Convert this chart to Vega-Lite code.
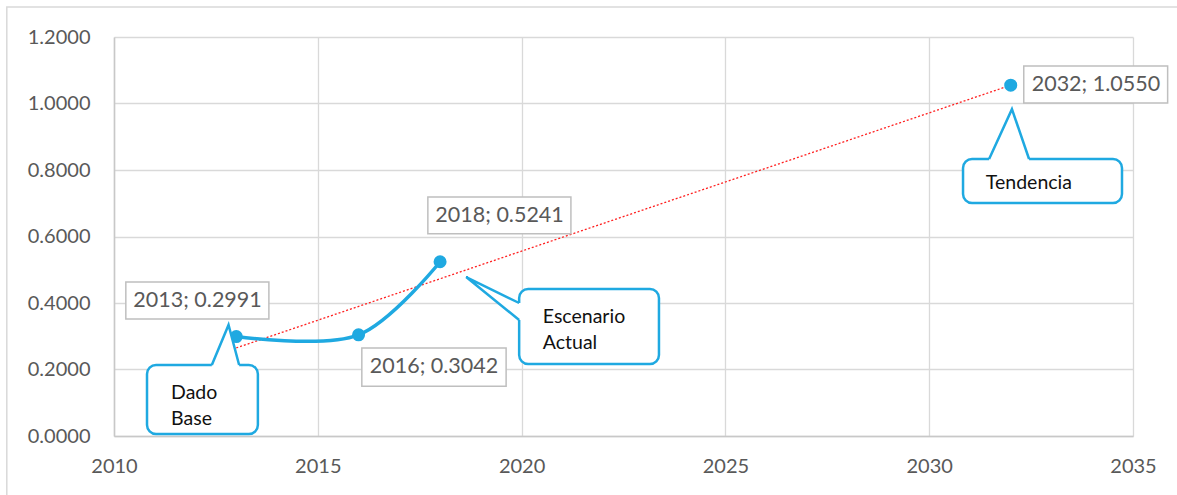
{
  "$schema": "https://vega.github.io/schema/vega-lite/v6.json",
  "width": 1019,
  "height": 399,
  "autosize": "none",
  "padding": {"left": 114, "top": 37, "right": 44, "bottom": 59},
  "background": "white",
  "config": {
    "view": {"stroke": null},
    "font": "Lato",
    "axis": {
      "labelFont": "Lato",
      "labelFontSize": 20,
      "labelColor": "#595959",
      "labelFlush": false,
      "labelOverlap": false,
      "gridColor": "#d9d9d9",
      "gridWidth": 1.3,
      "domainColor": "#c8c8c8",
      "domainWidth": 1.5,
      "ticks": false,
      "title": null
    }
  },
  "datasets": {
    "frame": [{"x": 2007.37, "x2": 2040, "y": 1.29, "y2": -0.5}],
    "points": [
      {"year": 2013, "value": 0.2991, "serie": "actual"},
      {"year": 2016, "value": 0.3042, "serie": "actual"},
      {"year": 2018, "value": 0.5241, "serie": "actual"},
      {"year": 2032, "value": 1.055, "serie": "tendencia"}
    ],
    "trend": [
      {"year": 2013, "value": 0.265},
      {"year": 2032, "value": 1.055}
    ],
    "labels": [
      {"text": "2013; 0.2991", "x": 2010.29, "x2": 2013.8, "y": 0.463, "y2": 0.352, "tx": 2012.05, "ty": 0.4075},
      {"text": "2016; 0.3042", "x": 2016.08, "x2": 2019.62, "y": 0.265, "y2": 0.15, "tx": 2017.85, "ty": 0.2075},
      {"text": "2018; 0.5241", "x": 2017.7, "x2": 2021.21, "y": 0.719, "y2": 0.608, "tx": 2019.46, "ty": 0.663},
      {"text": "2032; 1.0550", "x": 2032.32, "x2": 2035.85, "y": 1.113, "y2": 1.0015, "tx": 2034.09, "ty": 1.057}
    ],
    "callouts": [
      {"id": "dado", "x": 2010.81, "x2": 2013.53, "y": 0.2135, "y2": 0.006},
      {"id": "escenario", "x": 2019.94, "x2": 2023.37, "y": 0.442, "y2": 0.2165},
      {"id": "tendencia", "x": 2030.83, "x2": 2034.73, "y": 0.833, "y2": 0.701}
    ],
    "pointerFill": [
      {"id": "dado", "seq": 1, "x": 2012.4, "y": 0.2135},
      {"id": "dado", "seq": 2, "x": 2012.81, "y": 0.334},
      {"id": "dado", "seq": 3, "x": 2013.07, "y": 0.2135},
      {"id": "dado", "seq": 4, "x": 2013.07, "y": 0.195},
      {"id": "dado", "seq": 5, "x": 2012.4, "y": 0.195},
      {"id": "escenario", "seq": 1, "x": 2019.94, "y": 0.4},
      {"id": "escenario", "seq": 2, "x": 2018.64, "y": 0.478},
      {"id": "escenario", "seq": 3, "x": 2019.94, "y": 0.349},
      {"id": "escenario", "seq": 4, "x": 2020.06, "y": 0.349},
      {"id": "escenario", "seq": 5, "x": 2020.06, "y": 0.4},
      {"id": "tendencia", "seq": 1, "x": 2031.47, "y": 0.833},
      {"id": "tendencia", "seq": 2, "x": 2032.03, "y": 0.983},
      {"id": "tendencia", "seq": 3, "x": 2032.45, "y": 0.833},
      {"id": "tendencia", "seq": 4, "x": 2032.45, "y": 0.815},
      {"id": "tendencia", "seq": 5, "x": 2031.47, "y": 0.815}
    ],
    "pointerLine": [
      {"id": "dado", "seq": 1, "x": 2012.4, "y": 0.2135},
      {"id": "dado", "seq": 2, "x": 2012.81, "y": 0.334},
      {"id": "dado", "seq": 3, "x": 2013.07, "y": 0.2135},
      {"id": "escenario", "seq": 1, "x": 2019.94, "y": 0.4},
      {"id": "escenario", "seq": 2, "x": 2018.64, "y": 0.478},
      {"id": "escenario", "seq": 3, "x": 2019.94, "y": 0.349},
      {"id": "tendencia", "seq": 1, "x": 2031.47, "y": 0.833},
      {"id": "tendencia", "seq": 2, "x": 2032.03, "y": 0.983},
      {"id": "tendencia", "seq": 3, "x": 2032.45, "y": 0.833}
    ],
    "calloutText": [
      {"text": "Dado\nBase", "x": 2011.4, "y": 0.111},
      {"text": "Escenario\nActual", "x": 2020.52, "y": 0.34},
      {"text": "Tendencia", "x": 2031.39, "y": 0.743}
    ]
  },
  "layer": [
    {
      "data": {"name": "trend"},
      "mark": {"type": "line", "color": "#ff2020", "strokeWidth": 1.3, "strokeDash": [2, 2]},
      "encoding": {
        "x": {"field": "year", "type": "quantitative", "scale": {"domain": [2010, 2035], "nice": false, "zero": false},
              "axis": {"values": [2010, 2015, 2020, 2025, 2030, 2035], "format": "d", "labelPadding": 20, "grid": true}},
        "y": {"field": "value", "type": "quantitative", "scale": {"domain": [0, 1.2], "nice": false, "zero": false},
              "axis": {"values": [0, 0.2, 0.4, 0.6, 0.8, 1.0, 1.2], "format": ".4f", "labelPadding": 24, "grid": true}}
      }
    },
    {
      "data": {"name": "frame"},
      "mark": {"type": "rect", "fill": null, "stroke": "#d9d9d9", "strokeWidth": 1.5},
      "encoding": {
        "x": {"field": "x", "type": "quantitative"},
        "x2": {"field": "x2"},
        "y": {"field": "y", "type": "quantitative"},
        "y2": {"field": "y2"}
      }
    },
    {
      "data": {"name": "points"},
      "transform": [{"filter": "datum.serie === 'actual'"}],
      "mark": {"type": "line", "color": "#1fa9e1", "strokeWidth": 3.5, "interpolate": "catmull-rom"},
      "encoding": {
        "x": {"field": "year", "type": "quantitative"},
        "y": {"field": "value", "type": "quantitative"}
      }
    },
    {
      "data": {"name": "points"},
      "mark": {"type": "circle", "color": "#1fa9e1", "opacity": 1, "size": 170},
      "encoding": {
        "x": {"field": "year", "type": "quantitative"},
        "y": {"field": "value", "type": "quantitative"}
      }
    },
    {
      "data": {"name": "labels"},
      "mark": {"type": "rect", "fill": "white", "stroke": "#bfbfbf", "strokeWidth": 1.5},
      "encoding": {
        "x": {"field": "x", "type": "quantitative"},
        "x2": {"field": "x2"},
        "y": {"field": "y", "type": "quantitative"},
        "y2": {"field": "y2"}
      }
    },
    {
      "data": {"name": "labels"},
      "mark": {"type": "text", "font": "Lato", "fontSize": 21.5, "color": "#595959", "align": "center", "baseline": "middle"},
      "encoding": {
        "x": {"field": "tx", "type": "quantitative"},
        "y": {"field": "ty", "type": "quantitative"},
        "text": {"field": "text"}
      }
    },
    {
      "data": {"name": "callouts"},
      "mark": {"type": "rect", "fill": "white", "stroke": "#1fa9e1", "strokeWidth": 2.5, "cornerRadius": 9},
      "encoding": {
        "x": {"field": "x", "type": "quantitative"},
        "x2": {"field": "x2"},
        "y": {"field": "y", "type": "quantitative"},
        "y2": {"field": "y2"}
      }
    },
    {
      "data": {"name": "pointerFill"},
      "mark": {"type": "line", "fill": "white", "strokeOpacity": 0, "strokeWidth": 0},
      "encoding": {
        "x": {"field": "x", "type": "quantitative"},
        "y": {"field": "y", "type": "quantitative"},
        "detail": {"field": "id"},
        "order": {"field": "seq"}
      }
    },
    {
      "data": {"name": "pointerLine"},
      "mark": {"type": "line", "color": "#1fa9e1", "strokeWidth": 2.5, "strokeJoin": "miter"},
      "encoding": {
        "x": {"field": "x", "type": "quantitative"},
        "y": {"field": "y", "type": "quantitative"},
        "detail": {"field": "id"},
        "order": {"field": "seq"}
      }
    },
    {
      "data": {"name": "calloutText"},
      "mark": {"type": "text", "font": "Lato", "fontSize": 19.5, "color": "#111111", "align": "left", "baseline": "alphabetic", "lineBreak": "\n", "lineHeight": 26},
      "encoding": {
        "x": {"field": "x", "type": "quantitative"},
        "y": {"field": "y", "type": "quantitative"},
        "text": {"field": "text"}
      }
    }
  ]
}
